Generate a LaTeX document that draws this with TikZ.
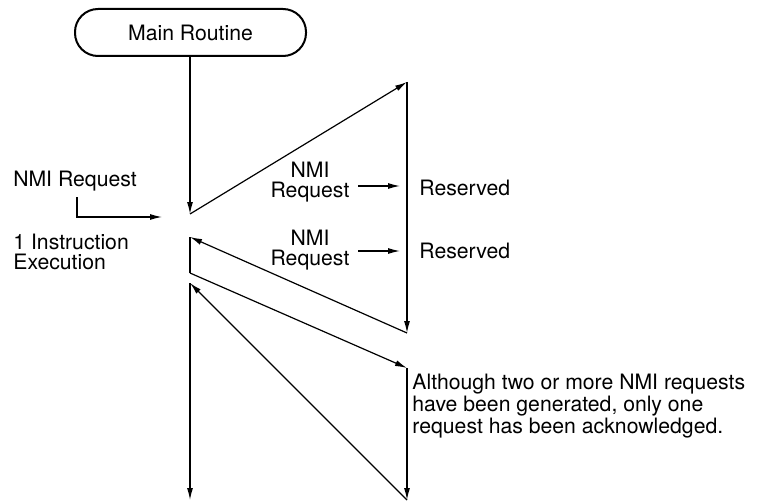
\documentclass[tikz,border=0pt]{standalone}
\usepackage{fontspec}
\setmainfont{TeX Gyre Heros}
\usetikzlibrary{arrows.meta, positioning}

\begin{document}
\begin{tikzpicture}[
  x=0.5pt, y=-0.5pt,
  flow/.style={-{Latex[length=6pt, width=3pt]}, line width=0.6pt},
  plain/.style={line width=0.6pt},
  label/.style={align=center, font=\fontsize{10.6pt}{10pt}\selectfont, inner sep=0pt},
  leftlabel/.style={label, align=left},
  routine/.style={draw, line width=1pt, rounded corners=11.5pt,
    minimum width=115.5pt, minimum height=23.5pt, label}
]
\useasboundingbox (0,0) rectangle (769,502);
\node[routine] (main) at (190.5,32.5) {Main Routine};
% corner points of the zigzag
\coordinate (p0) at (190,214);
\coordinate (r1) at (407,82);
\coordinate (r2) at (407,333);
\coordinate (p1) at (190,237);
\coordinate (p2) at (190,273);
\coordinate (r3) at (407,368);
\coordinate (r4) at (407,500);
\coordinate (p3) at (190,283);
\coordinate (p4) at (190,500);
\draw[flow] (main.south -| p0) -- (p0);
\draw[flow] (p0) -- (r1);
\draw[flow] (r1) -- (r2);
\draw[flow] (r2) -- (p1);
\draw[plain] (p1) -- (p2);
\draw[flow] (p2) -- (r3);
\draw[flow] (r3) -- (r4);
\draw[flow] (r4) -- (p3);
\draw[flow] (p3) -- (p4);
% incoming request
\node[label] (nmiin) at (75,181) {NMI Request};
\coordinate (inpt) at (162,217);
\draw[flow] ([xshift=1pt, yshift=-3pt]nmiin.south) |- (inpt);
\node[leftlabel, anchor=west] (exec) at (13,252) {1 Instruction\\Execution};
% requests during the handler
\node[label] (nmi1) at (310,182) {NMI\\Request};
\node[label, anchor=west] (res1) at (419,188) {Reserved};
\coordinate (a1) at (358,186);
\coordinate (b1) at (400,186);
\draw[flow] (a1) -- (b1);
\node[label] (nmi2) at (310,250) {NMI\\Request};
\node[label, anchor=west] (res2) at (419,251) {Reserved};
\coordinate (a2) at (358,251);
\coordinate (b2) at (400,251);
\draw[flow] (a2) -- (b2);
\node[leftlabel, anchor=west] (note) at (412,406)
  {Although two or more NMI requests\\have been generated, only one\\request has been acknowledged.};
\end{tikzpicture}
\end{document}
